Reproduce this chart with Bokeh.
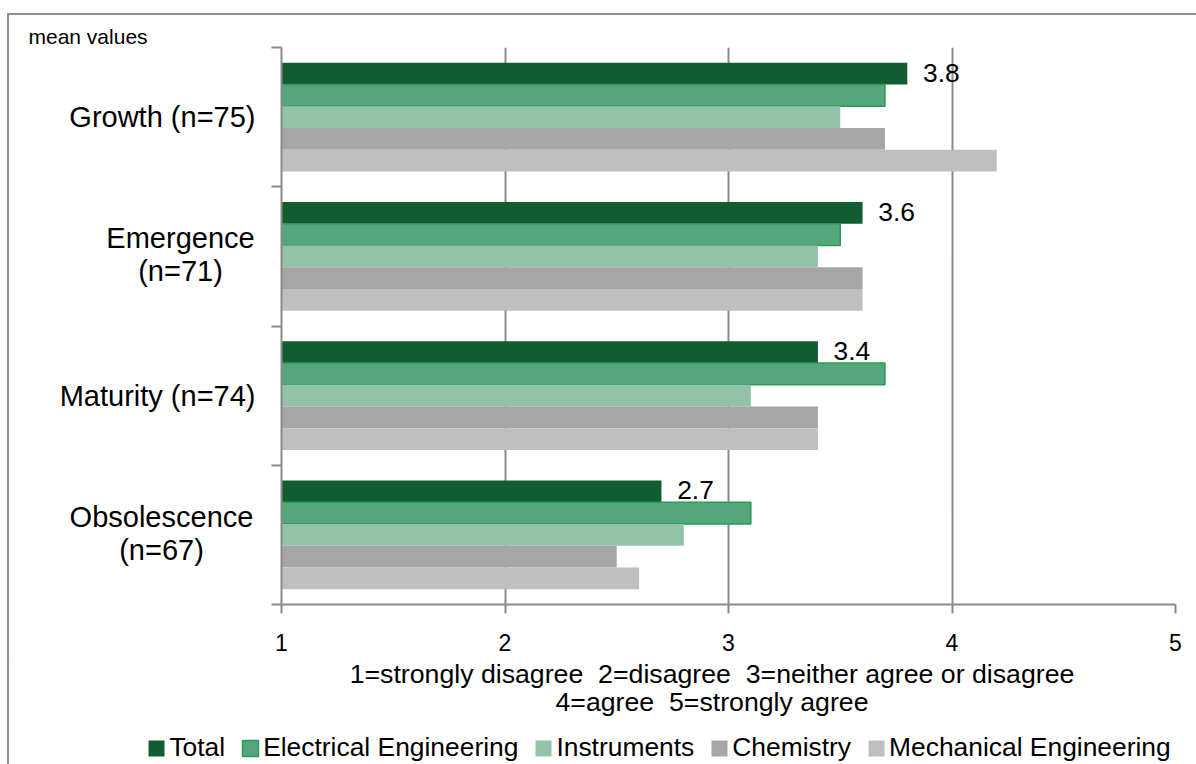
from bokeh.plotting import figure
from bokeh.layouts import column, row
from bokeh.models import Range1d, FixedTicker, ColumnDataSource, Legend, LegendItem
from bokeh.core.properties import value
from bokeh.embed import file_html
from bokeh.resources import INLINE

# ---------------- data ----------------
categories = ["Growth (n=75)", "Emergence (n=71)", "Maturity (n=74)", "Obsolescence (n=67)"]
category_lines = [["Growth (n=75)"], ["Emergence", "(n=71)"], ["Maturity (n=74)"], ["Obsolescence", "(n=67)"]]
series = ["Total", "Electrical Engineering", "Instruments", "Chemistry", "Mechanical Engineering"]
total = [3.8, 3.6, 3.4, 2.7]
electrical = [3.7, 3.5, 3.7, 3.1]
instruments = [3.5, 3.4, 3.1, 2.8]
chemistry = [3.7, 3.6, 3.4, 2.5]
mechanical = [4.2, 3.6, 3.4, 2.6]
x_ticks = [1, 2, 3, 4, 5]
scale_note = ["1=strongly disagree\u00a0 2=disagree\u00a0 3=neither agree or disagree",
              "4=agree\u00a0 5=strongly agree"]
unit_note = "mean values"

# ---------------- style / layout ----------------
FONT = "Liberation Sans"
GREY = "#8a8a8a"
FRAME = "#8e8e8e"
fills = ["#115C31", "#55A67A", "#92C2A8", "#A6A6A6", "#BFBFBF"]
edges = [None, "#2B9A5B", None, None, None]
bar_h = 0.156
n = len(categories)
centers = [i + 0.5 for i in range(n)]

W = 1187            # content width inside the chart border
LEFT_W = 257
MAIN_W = W - LEFT_W
FRAME_H = 557
MAIN_TOP = 32
MAIN_BOTTOM = 55
MID_H = MAIN_TOP + FRAME_H + MAIN_BOTTOM
BOT_H = 749 - MID_H
band_px = FRAME_H / n
BASE_FIX = 11       # alphabetic-baseline correction for text glyphs


def blank(width, height, xr, yr):
    f = figure(width=width, height=height, output_backend="svg", toolbar_location=None,
               x_axis_type=None, y_axis_type=None, x_range=xr, y_range=yr,
               min_border=0, min_border_left=0, min_border_right=0,
               min_border_top=0, min_border_bottom=0, frame_align=False)
    f.outline_line_color = None
    f.background_fill_color = "white"
    f.border_fill_color = "white"
    f.grid.visible = False
    return f


# ---------------- main chart ----------------
p = figure(width=MAIN_W, height=MID_H, output_backend="svg", toolbar_location=None,
           x_range=Range1d(x_ticks[0], x_ticks[-1]), y_range=Range1d(n, 0),
           min_border_left=15, min_border_right=21, min_border_top=MAIN_TOP,
           min_border_bottom=MAIN_BOTTOM, frame_align=False)
p.outline_line_color = None
p.background_fill_color = "white"
p.border_fill_color = "white"

values = [total, electrical, instruments, chemistry, mechanical]
for j, (name, vals) in enumerate(zip(series, values)):
    src = ColumnDataSource(dict(y=[c + (j - 2) * bar_h for c in centers], right=vals))
    p.hbar(y="y", left=x_ticks[0], right="right", height=bar_h, source=src,
           fill_color=fills[j], line_color=edges[j], line_width=1.5)

xa = p.xaxis[0]
xa.ticker = FixedTicker(ticks=x_ticks)
xa.axis_line_color = GREY
xa.axis_line_width = 2
xa.major_tick_line_color = GREY
xa.major_tick_line_width = 2
xa.major_tick_out = 9
xa.major_tick_in = 0
xa.minor_tick_line_color = None
xa.major_label_text_font = FONT
xa.major_label_text_font_size = "23px"
xa.major_label_text_color = "black"
xa.major_label_standoff = 20

ya = p.yaxis[0]
ya.ticker = FixedTicker(ticks=list(range(n + 1)))
ya.axis_line_color = GREY
ya.axis_line_width = 2
ya.major_tick_line_color = GREY
ya.major_tick_line_width = 2
ya.major_tick_out = 10
ya.major_tick_in = 0
ya.minor_tick_line_color = None
ya.major_label_text_color = None
ya.major_label_text_font_size = "1px"
ya.major_label_standoff = 0

p.xgrid.ticker = FixedTicker(ticks=x_ticks)
p.xgrid.grid_line_color = GREY
p.xgrid.grid_line_width = 2
p.ygrid.grid_line_color = None

lab_src = ColumnDataSource(dict(x=total, y=[c - 2 * bar_h for c in centers],
                                text=[f"{v:.1f}" for v in total]))
p.text(x="x", y="y", text="text", source=lab_src, x_offset=15.7, y_offset=10 - BASE_FIX,
       text_align="left", text_baseline="alphabetic",
       text_font=value(FONT), text_font_size="26.4px", text_color="black")

# ---------------- left strip: unit note + category labels ----------------
left = blank(LEFT_W, MID_H, Range1d(0, LEFT_W),
             Range1d(n + MAIN_BOTTOM / band_px, -MAIN_TOP / band_px))
left.text(x=[19], y=[0], y_offset=-3 - 8, text=[unit_note], text_align="left",
          text_baseline="alphabetic", text_font=value(FONT), text_font_size="21px",
          text_color="black")
two_line_center = {1: 171, 3: 152}
lx, ly, lt, la, lo = [], [], [], [], []
for i, lines in enumerate(category_lines):
    if len(lines) == 1:
        lx.append(246); ly.append(centers[i]); lt.append(lines[0]); la.append("right")
        lo.append(11 - BASE_FIX)
    else:
        for k, t in enumerate(lines):
            lx.append(two_line_center[i]); ly.append(centers[i]); lt.append(t)
            la.append("center"); lo.append(-7 + 33 * k - BASE_FIX)
left.text(x="x", y="y", text="t", source=ColumnDataSource(dict(x=lx, y=ly, t=lt, a=la, o=lo)),
          text_align="a", y_offset="o", text_baseline="alphabetic",
          text_font=value(FONT), text_font_size="29px", text_color="black")

# ---------------- bottom strip: scale note + legend ----------------
bot = blank(W, BOT_H, Range1d(0, W), Range1d(BOT_H, 0))
bot_top = 15 + MID_H    # page y of this strip
bot.text(x=[702.5, 702.5], y=[684 - bot_top, 712 - bot_top], y_offset=-BASE_FIX,
         text=scale_note, text_align="center", text_baseline="alphabetic",
         text_font=value(FONT), text_font_size="26.7px", text_color="black")
swatches = []
for j, name in enumerate(series):
    r = bot.hbar(y=[-50], right=[0], left=[0], height=0.001, fill_color=fills[j],
                 line_color=edges[j], line_width=1.5)
    swatches.append(r)
legend = Legend(items=[LegendItem(label=s, renderers=[r]) for s, r in zip(series, swatches)],
                orientation="horizontal", location=(137.4, 1),
                glyph_width=20, glyph_height=20, label_standoff=3, spacing=15, label_height=30,
                padding=0, margin=0, border_line_color=None, background_fill_alpha=0,
                label_text_font=FONT, label_text_font_size="26.4px", label_text_color="black")
bot.add_layout(legend)

layout = column(row(left, p), bot,
                styles={"border-top": f"2px solid {FRAME}", "border-left": f"2px solid {FRAME}",
                        "margin-top": "13px", "margin-left": "7px"})
open("out.html", "w").write(file_html(layout, INLINE))
